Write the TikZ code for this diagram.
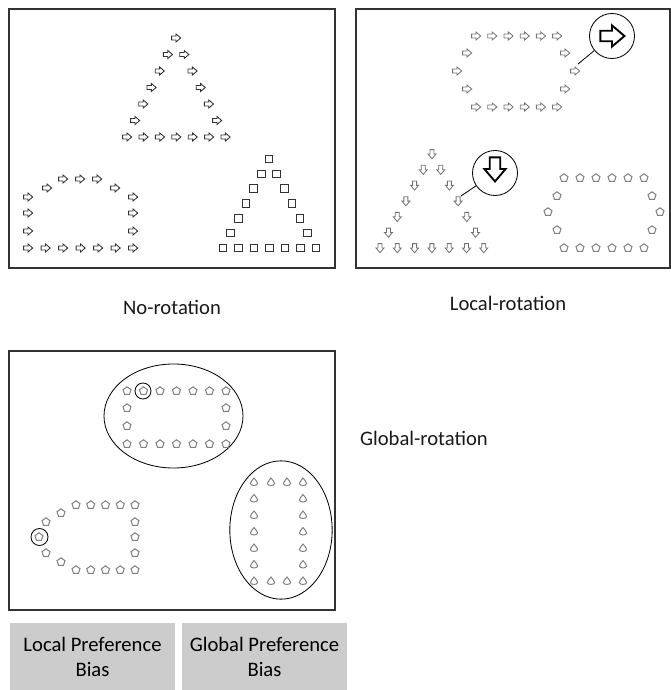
\documentclass[tikz,border=0pt]{standalone}
\usepackage{fontspec}
\setmainfont{Carlito}
\usetikzlibrary{shapes.geometric}

\tikzset{
  pics/rarrow/.style={code={\draw (-4.4,-2) -- (0,-2) -- (0,-4) -- (4.7,0) -- (0,4) -- (0,2) -- (-4.4,2) -- cycle;}},
  pics/darrow/.style={code={\draw (-2,-4.4) -- (-2,0) -- (-4,0) -- (0,4.7) -- (4,0) -- (2,0) -- (2,-4.4) -- cycle;}},
  pics/sqbox/.style={code={\draw (-3.8,-3.8) rectangle (3.8,3.8);}},
  pics/pent/.style={code={\draw (0,-4.2) -- (4,-1.3) -- (2.45,3.4) -- (-2.45,3.4) -- (-4,-1.3) -- cycle;}},
  pics/drop/.style={code={\draw (0,-4) .. controls (1.2,-1.8) and (3.6,-0.5) .. (3.6,1.5) .. controls (3.6,4.1) and (-3.6,4.1) .. (-3.6,1.5) .. controls (-3.6,-0.5) and (-1.2,-1.8) .. (0,-4) -- cycle;}}
}

\begin{document}
\begin{tikzpicture}[x=0.03cm,y=-0.03cm,
  frame/.style={draw=black!80,line width=1pt},
  darkglyph/.style={black!80,line width=0.75pt},
  lightglyph/.style={black!55,line width=0.7pt},
  pentglyph/.style={black!50,line width=0.85pt},
  bigglyph/.style={black,line width=1.6pt,scale=2.65},
  lens/.style={circle,draw,line width=0.7pt,minimum size=1.35cm,inner sep=0pt},
  ring/.style={circle,draw,line width=0.7pt,minimum size=0.48cm,inner sep=0pt},
  group/.style={ellipse,draw,line width=0.7pt,inner sep=0pt},
  caption/.style={font=\fontsize{17.6}{21.3}\selectfont,text=black!90},
  biasbox/.style={fill=black!20,minimum width=4.95cm,minimum height=2.01cm,align=center,inner sep=0pt,font=\fontsize{17.6}{21.3}\selectfont}]

  \useasboundingbox (0,0) rectangle (671,690);

  \draw[frame] (9,9) rectangle (335,268);
  \draw[frame] (356,9) rectangle (670,268);
  \draw[frame] (9,351) rectangle (335,610);

  \node[caption] (norot) at (172,307) {No-rotation};
  \node[caption] (localrot) at (508,303) {Local-rotation};
  \node[caption,anchor=west] (globalrot) at (356,438) {Global-rotation};

  \node[biasbox] (localbias) at (92.5,656.5) {Local Preference\\Bias};
  \node[biasbox] (globalbias) at (264.5,656.5) {Global Preference\\Bias};

  % no rotation
  \pic[darkglyph] at (176,38) {rarrow};
  \foreach \k in {1,...,5} {
    \pic[darkglyph] at (176-8.2*\k,38+16.5*\k) {rarrow};
    \pic[darkglyph] at (176+8.2*\k,38+16.5*\k) {rarrow};
  }
  \foreach \i in {0,...,6}
    \pic[darkglyph] at (127+16.4*\i,137) {rarrow};

  \foreach \x/\y in {63/179,80/179,97/179,47/188,115/188,28/197,28/213,28/231,133/197,133/213,133/231}
    \pic[darkglyph] at (\x,\y) {rarrow};
  \foreach \i in {0,...,6}
    \pic[darkglyph] at (28+17.5*\i,248) {rarrow};

  \pic[darkglyph] at (269,159) {sqbox};
  \foreach \k in {1,...,5} {
    \pic[darkglyph] at (269-7.7*\k,159+14.8*\k) {sqbox};
    \pic[darkglyph] at (269+7.7*\k,159+14.8*\k) {sqbox};
  }
  \foreach \i in {0,...,6}
    \pic[darkglyph] at (223+15.5*\i,248) {sqbox};

  % local rotation
  \foreach \i in {0,...,5} {
    \pic[lightglyph] at (476+16.2*\i,36) {rarrow};
    \pic[lightglyph] at (476+16.2*\i,107) {rarrow};
  }
  \foreach \x/\y in {467/53,565/53,457/71,575/71,467/89,565/89}
    \pic[lightglyph] at (\x,\y) {rarrow};

  \node[lens] (lensright) at (612,36) {};
  \pic[bigglyph] at (612,36) {rarrow};
  \coordinate (tipright) at (578,64);
  \draw[line width=0.7pt] (lensright) -- (tipright);

  \pic[lightglyph] at (432,154) {darrow};
  \foreach \k in {1,...,5} {
    \pic[lightglyph] at (432-8.7*\k,154+15.7*\k) {darrow};
    \pic[lightglyph] at (432+8.7*\k,154+15.7*\k) {darrow};
  }
  \foreach \i in {0,...,6}
    \pic[lightglyph] at (380+17.3*\i,248) {darrow};

  \node[lens] (lensdown) at (495,173) {};
  \pic[bigglyph] at (495,169) {darrow};
  \coordinate (tipdown) at (461,196);
  \draw[line width=0.7pt] (lensdown) -- (tipdown);

  \foreach \i in {0,...,5} {
    \pic[pentglyph] at (564+16*\i,178) {pent};
    \pic[pentglyph] at (564+16*\i,248) {pent};
  }
  \foreach \x/\y in {557/196,652/196,548/212,660/212,557/230,652/230}
    \pic[pentglyph] at (\x,\y) {pent};

  % global rotation
  \node[group,minimum width=4.17cm,minimum height=3.12cm] (topgroup) at (173.5,416) {};
  \foreach \i in {0,...,6} {
    \pic[pentglyph] at (127+16.5*\i,391) {pent};
    \pic[pentglyph] at (127+16.5*\i,444) {pent};
  }
  \foreach \x/\y in {127/408,127/426,226/408,226/426}
    \pic[pentglyph] at (\x,\y) {pent};
  \node[ring] (pickone) at (143,391) {};

  \node[group,minimum width=3.07cm,minimum height=4.15cm] (rightgroup) at (281,530) {};
  \foreach \x in {254,271,287,303} {
    \pic[pentglyph] at (\x,482) {drop};
    \pic[pentglyph] at (\x,581) {drop};
  }
  \foreach \j in {1,...,5} {
    \pic[pentglyph] at (254,482+16.5*\j) {drop};
    \pic[pentglyph] at (303,482+16.5*\j) {drop};
  }

  \foreach \i in {0,...,4} {
    \pic[pentglyph] at (76+14.75*\i,505) {pent};
    \pic[pentglyph] at (76+14.75*\i,570) {pent};
  }
  \foreach \x/\y in {135/522,135/537,135/553,61/513,46/522,39/537,46/553,61/562}
    \pic[pentglyph] at (\x,\y) {pent};
  \node[ring,minimum size=0.51cm] (picktwo) at (39.5,537) {};

\end{tikzpicture}
\end{document}
